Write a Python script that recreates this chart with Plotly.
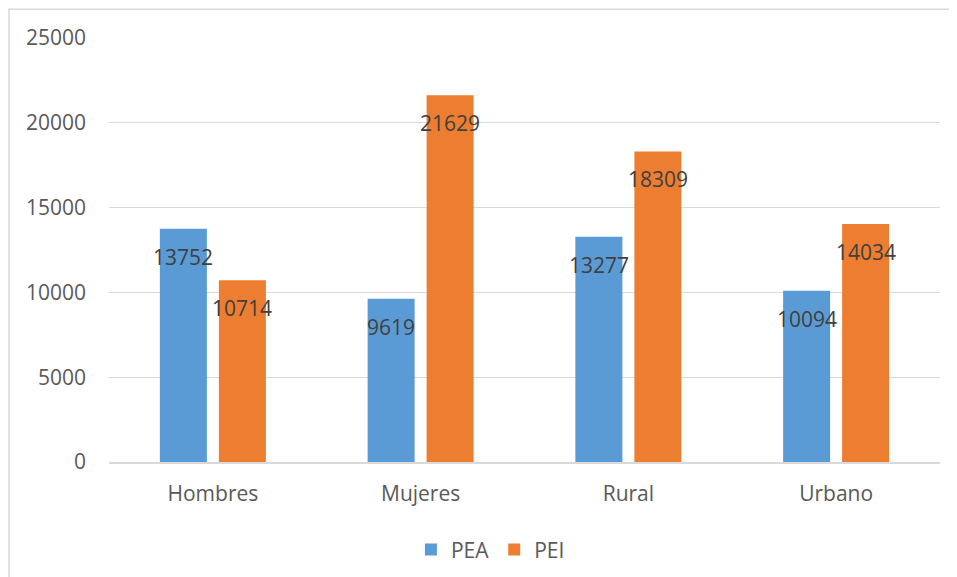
import plotly.graph_objects as go

categories = ["Hombres", "Mujeres", "Rural", "Urbano"]
pea = [13752, 9619, 13277, 10094]
pei = [10714, 21629, 18309, 14034]
y_ticks = [0, 5000, 10000, 15000, 20000, 25000]
y_tick_text = ["0", "5000", "10000", "15000", "20000", "25000"]

BLUE = "#5b9bd5"
ORANGE = "#ed7d31"
FONT = "Open Sans"

fig = go.Figure()
fig.add_trace(go.Bar(name="PEA", x=categories, y=pea, marker=dict(color=BLUE, line=dict(width=0))))
fig.add_trace(go.Bar(name="PEI", x=categories, y=pei, marker=dict(color=ORANGE, line=dict(width=0))))

annotations = []
for vals, shift in ((pea, -29.5), (pei, 29.5)):
    for c, v in zip(categories, vals):
        annotations.append(dict(
            x=c, y=v, xref="x", yref="y", text=str(v), showarrow=False,
            xshift=shift, yshift=-28, yanchor="middle", xanchor="center",
            font=dict(family=FONT, size=21, color="#404040"),
        ))

fig.update_layout(
    width=949, height=569,
    margin=dict(l=101, r=17, t=30, b=115, autoexpand=False),
    paper_bgcolor="white", plot_bgcolor="white",
    barmode="group", bargap=0.432, bargroupgap=0.203,
    font=dict(family=FONT, size=21, color="#595959"),
    showlegend=True,
    legend=dict(orientation="h", x=0.459, xanchor="center", y=-0.207, yanchor="middle",
                font=dict(family=FONT, size=21, color="#595959"), itemsizing="constant",
                traceorder="normal"),
    annotations=annotations,
    shapes=[dict(type="rect", xref="paper", yref="paper", x0=-0.1203, x1=1.2, y0=-0.4, y1=1.068,
                 line=dict(color="#d9d9d9", width=1.5), fillcolor="rgba(0,0,0,0)", layer="below")],
)
fig.update_yaxes(range=[0, 25000], tickvals=y_ticks, ticktext=y_tick_text, showgrid=True,
                 gridcolor="#d9d9d9", gridwidth=1.3, automargin=False,
                 zeroline=False, showline=False, ticks="", ticklabelstandoff=22,
                 tickfont=dict(family=FONT, size=21, color="#595959"))
fig.update_xaxes(showline=True, linecolor="#d9d9d9", linewidth=1.5, ticks="", ticklabelstandoff=12,
                 automargin=False, tickfont=dict(family=FONT, size=21, color="#595959"))

fig.write_html("out.html")
